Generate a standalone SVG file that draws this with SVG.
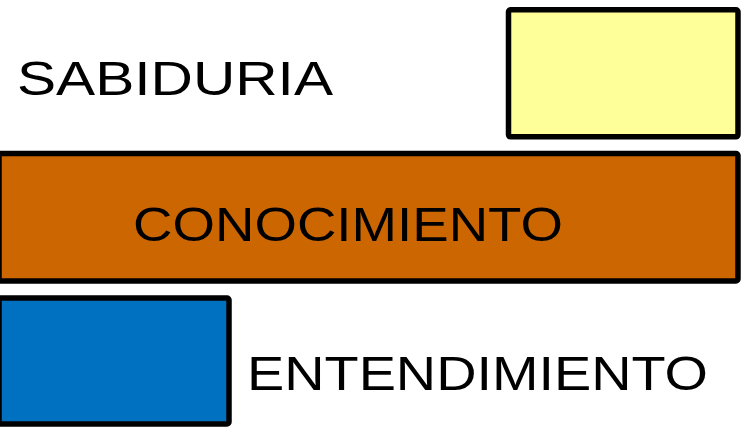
<svg xmlns="http://www.w3.org/2000/svg" width="742" height="433" viewBox="0 0 742 433">
<style>
.box{stroke:#000;stroke-width:5.5}
.lbl{font-family:"Liberation Sans","DejaVu Sans",sans-serif;font-size:48px;fill:#000;font-weight:normal}
</style>
<rect width="742" height="433" fill="#fff"/>
<g id="sabiduria">
<rect class="box" x="508.5" y="9.8" width="229.5" height="127" rx="2" fill="#FFFF99"/>
<text class="lbl" x="17" y="95" textLength="316" lengthAdjust="spacingAndGlyphs">SABIDURIA</text>
</g>
<g id="conocimiento">
<rect class="box" x="-1" y="153.5" width="739" height="127.5" rx="2" fill="#CC6600"/>
<text class="lbl" x="133" y="241" textLength="430" lengthAdjust="spacingAndGlyphs">CONOCIMIENTO</text>
</g>
<g id="entendimiento">
<rect class="box" x="-1" y="298" width="230" height="126" rx="2" fill="#0070C0"/>
<text class="lbl" x="247" y="390" textLength="461" lengthAdjust="spacingAndGlyphs">ENTENDIMIENTO</text>
</g>
<g id="connectors"/>
</svg>
